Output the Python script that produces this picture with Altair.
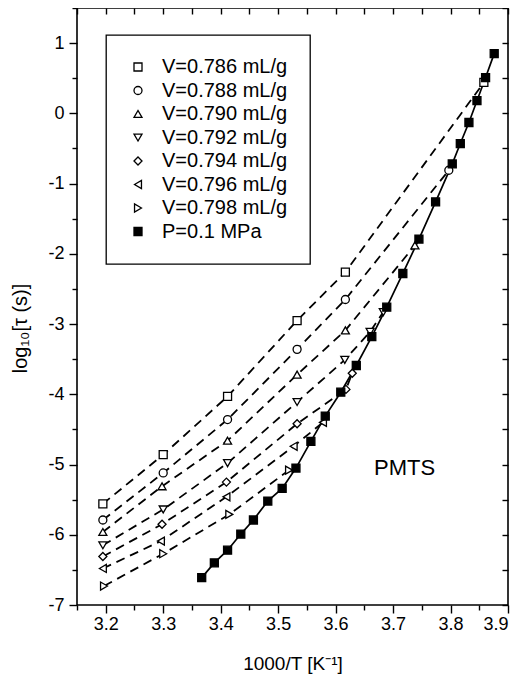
import altair as alt
import pandas as pd

series_names = ["V=0.786 mL/g", "V=0.788 mL/g", "V=0.790 mL/g", "V=0.792 mL/g",
                "V=0.794 mL/g", "V=0.796 mL/g", "V=0.798 mL/g", "P=0.1 MPa"]
shapes = ["square", "circle", "triangle-up", "triangle-down", "diamond",
          "triangle-left", "triangle-right", "square"]
fills = ["white"] * 7 + ["black"]
strokes = ["black"] * 8

# open-symbol isochoric series (x = 1000/T, y = log10 tau)
x786 = [3.195, 3.300, 3.412, 3.533, 3.617, 3.858]
y786 = [-5.56, -4.86, -4.03, -2.95, -2.26, 0.44]
x788 = [3.195, 3.300, 3.412, 3.533, 3.617, 3.797]
y788 = [-5.79, -5.12, -4.36, -3.36, -2.65, -0.81]
x790 = [3.195, 3.298, 3.412, 3.533, 3.617, 3.738]
y790 = [-5.96, -5.31, -4.66, -3.72, -3.09, -1.88]
x792 = [3.195, 3.300, 3.412, 3.533, 3.616, 3.660, 3.683]
y792 = [-6.15, -5.64, -4.98, -4.11, -3.51, -3.11, -2.83]
x794 = [3.195, 3.298, 3.410, 3.533, 3.618, 3.629]
y794 = [-6.31, -5.85, -5.25, -4.42, -3.93, -3.70]
x796 = [3.195, 3.296, 3.410, 3.527, 3.578]
y796 = [-6.48, -6.09, -5.46, -4.74, -4.40]
x798 = [3.197, 3.300, 3.415, 3.519]
y798 = [-6.73, -6.27, -5.71, -5.08]

# isobaric series P = 0.1 MPa (filled squares)
xP = [3.367, 3.389, 3.412, 3.435, 3.457, 3.482, 3.507, 3.531, 3.557, 3.582,
      3.609, 3.636, 3.663, 3.689, 3.717, 3.745, 3.774, 3.803, 3.817, 3.832,
      3.846, 3.861, 3.876]
yP = [-6.61, -6.40, -6.22, -5.99, -5.79, -5.52, -5.34, -5.05, -4.67, -4.31,
      -3.97, -3.59, -3.18, -2.76, -2.28, -1.79, -1.26, -0.72, -0.43, -0.13,
      0.18, 0.51, 0.85]

x_major = [3.2, 3.3, 3.4, 3.5, 3.6, 3.7, 3.8, 3.9]
x_minor = [3.15, 3.25, 3.35, 3.45, 3.55, 3.65, 3.75, 3.85]
x_all = sorted(x_major + x_minor)
y_major = [-7, -6, -5, -4, -3, -2, -1, 0, 1]
y_minor = [-6.5, -5.5, -4.5, -3.5, -2.5, -1.5, -0.5, 0.5, 1.5]
y_all = sorted(y_major + y_minor)

pairs = [(x786, y786), (x788, y788), (x790, y790), (x792, y792),
         (x794, y794), (x796, y796), (x798, y798), (xP, yP)]
rows = []
for name, (xs_, ys_) in zip(series_names, pairs):
    for i, (a, b) in enumerate(zip(xs_, ys_)):
        rows.append({"series": name, "x": a, "y": b, "order": i})
df = pd.DataFrame(rows)
df_v = df[df.series != "P=0.1 MPa"]
df_p = df[df.series == "P=0.1 MPa"]

FONT = "Liberation Sans"
xs = alt.Scale(domain=[3.15, 3.9], nice=False, zero=False)
ys = alt.Scale(domain=[-7, 1.5], nice=False, zero=False)

ax_kw = dict(grid=False, tickColor="black", tickWidth=1.4, domain=False,
             labelFont=FONT, labelColor="black", titleFont=FONT,
             titleColor="black", titleFontWeight="normal")

x_main = alt.X("x:Q", scale=xs, axis=alt.Axis(
    orient="bottom", values=x_major, format=".1f", tickSize=8, labelFontSize=18,
    labelPadding=2, title="1000/T [K⁻¹]", titleFontSize=19, titlePadding=21, **ax_kw))
y_main = alt.Y("y:Q", scale=ys, axis=alt.Axis(
    orient="left", values=y_major, labelExpr="'' + datum.value", tickSize=8,
    labelFontSize=18, labelPadding=5, title="log₁₀[τ (s)]", titleFontSize=20,
    titleX=-57, titleY=320, titleAngle=270, titleAlign="center",
    titleBaseline="middle", **ax_kw))

dashed = alt.Chart(df_v).mark_line(
    strokeDash=[9, 6], strokeWidth=1.8, color="black"
).encode(x=x_main, y=y_main, detail="series:N", order="order:Q")

x_min_ax = alt.X("x:Q", scale=xs, axis=alt.Axis(
    orient="bottom", values=x_minor, tickSize=5, labels=False, title=None, **ax_kw))
y_min_ax = alt.Y("y:Q", scale=ys, axis=alt.Axis(
    orient="left", values=y_minor, tickSize=5, labels=False, title=None, **ax_kw))

solid = alt.Chart(df_p).mark_line(strokeWidth=1.7, color="black").encode(
    x=x_min_ax, y=y_min_ax, order="order:Q")

x_top = alt.X("x:Q", scale=xs, axis=alt.Axis(
    orient="top", values=x_all, tickSize=6, offset=-6, labels=False, title=None, **ax_kw))
y_right = alt.Y("y:Q", scale=ys, axis=alt.Axis(
    orient="right", values=y_all, tickSize=6, offset=-6, labels=False, title=None, **ax_kw))

frame_ticks = alt.Chart(df_p).mark_point(opacity=0).encode(x=x_top, y=y_right)

points = alt.Chart(df).mark_point(
    filled=False, size=64, strokeWidth=1.3, opacity=1
).encode(
    x=alt.X("x:Q", scale=xs, axis=None),
    y=alt.Y("y:Q", scale=ys, axis=None),
    shape=alt.Shape("series:N", scale=alt.Scale(domain=series_names, range=shapes),
                    legend=alt.Legend(title=None)),
    fill=alt.Fill("series:N", scale=alt.Scale(domain=series_names, range=fills),
                  legend=alt.Legend(title=None)),
    stroke=alt.Stroke("series:N", scale=alt.Scale(domain=series_names, range=strokes),
                      legend=alt.Legend(title=None)),
)

label_df = pd.DataFrame({"x": [3.72], "y": [-5.05], "t": ["PMTS"]})
label = alt.Chart(label_df).mark_text(
    font=FONT, fontSize=22, color="black", align="center", baseline="middle"
).encode(x=alt.X("x:Q", scale=xs, axis=None), y=alt.Y("y:Q", scale=ys, axis=None), text="t:N")

chart = alt.layer(dashed, solid, frame_ticks, points, label).resolve_axis(
    x="independent", y="independent"
).properties(
    width=431, height=597,
    padding={"left": 69, "top": 0, "right": 6, "bottom": 70},
    autosize=alt.AutoSizeParams(type="none"),
).configure_view(
    stroke="black", strokeWidth=1.6
).configure_legend(
    orient="none", legendX=29, legendY=27, strokeColor="black", strokeWidth=1.3,
    fillColor="white", padding=22, labelFont=FONT, labelFontSize=20,
    labelColor="black", symbolSize=64, symbolStrokeWidth=1.3,
    labelOffset=14, rowPadding=3.5,
)

chart.save("out.html", embed_options={"renderer": "svg", "actions": False})
